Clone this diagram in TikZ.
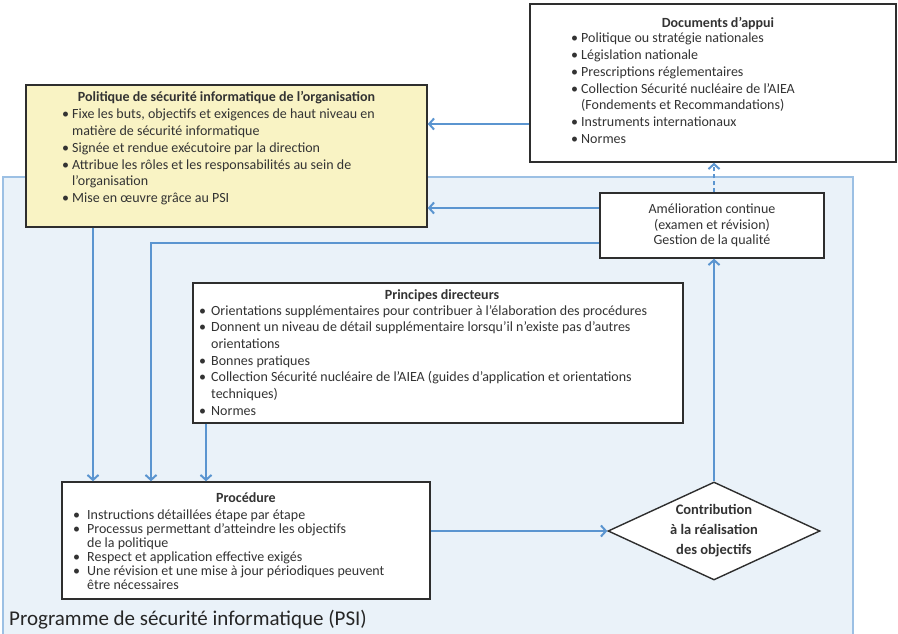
\documentclass[tikz,border=0pt]{standalone}
\usepackage{fontspec}
\setmainfont{Carlito}
\usetikzlibrary{arrows.meta,shapes.geometric,shadows}
\definecolor{arrowblue}{HTML}{5B95D0}
\definecolor{psifill}{HTML}{EAF2F9}
\definecolor{psiline}{HTML}{9CC0E4}
\definecolor{polfill}{HTML}{F9F3C4}
\definecolor{boxline}{HTML}{2E2E2E}
\definecolor{textgray}{HTML}{333333}
% bullet of a given width, used in the first column of the lists
\newcommand\blt[1]{\makebox[#1][l]{\textbullet}}
\begin{document}
\begin{tikzpicture}[x=1pt,y=-1pt,
  boxstyle/.style={draw=boxline, line width=1.4pt, fill=white, inner sep=0pt,
    drop shadow={shadow xshift=1.3pt, shadow yshift=-1.3pt, opacity=0.3}},
  txt/.style={inner sep=0pt, text=textgray, font=\fontsize{14}{16.7}\selectfont},
  ttl/.style={txt, font=\bfseries\fontsize{14}{16.7}\selectfont, anchor=base},
  lst/.style={txt, anchor=base west},
  arr/.style={draw=arrowblue, line width=2pt,
    -{Straight Barb[length=5pt,width=11pt]}},
  dasharr/.style={arr, dash pattern=on 4pt off 3pt}]
\useasboundingbox (0,0) rectangle (898,634);

% program area
\node[draw=psiline, line width=1.3pt, fill=psifill, inner sep=0pt,
      minimum width=850, minimum height=466] (psi) at (428,410) {};
\node[txt, text=black!85, font=\fontsize{21}{24}\selectfont, anchor=west]
      (psiT) at (9,620) {Programme de sécurité informatique (PSI)};

% supporting documents
\node[boxstyle, minimum width=366, minimum height=158] (docs) at (713,83) {};
\node[ttl] (docsT) at (718,28) {Documents d’appui};
\node[lst] (docsL) at (571,43) {\begin{tabular}[t]{@{}l@{}l@{}}
  \blt{10pt} & Politique ou stratégie nationales\\
  \blt{10pt} & Législation nationale\\
  \blt{10pt} & Prescriptions réglementaires\\
  \blt{10pt} & Collection Sécurité nucléaire de l’AIEA\\
             & (Fondements et Recommandations)\\
  \blt{10pt} & Instruments internationaux\\
  \blt{10pt} & Normes
\end{tabular}};

% organisational policy
\node[boxstyle, fill=polfill, minimum width=401, minimum height=142] (pol) at (226.5,156) {};
\node[ttl] (polT) at (226.5,102) {Politique de sécurité informatique de l’organisation};
\node[lst] (polL) at (62,119) {\begin{tabular}[t]{@{}l@{}l@{}}
  \blt{10pt} & Fixe les buts, objectifs et exigences de haut niveau en\\
             & matière de sécurité informatique\\
  \blt{10pt} & Signée et rendue exécutoire par la direction\\
  \blt{10pt} & Attribue les rôles et les responsabilités au sein de\\
             & l'organisation\\
  \blt{10pt} & Mise en œuvre grâce au PSI
\end{tabular}};

% continuous improvement
\node[boxstyle, minimum width=224, minimum height=65] (ame) at (712,225.5) {};
\node[txt, align=center, font=\fontsize{14}{15.5}\selectfont] (ameT) at (712,225.5)
  {Amélioration continue\\(examen et révision)\\Gestion de la qualité};

% guiding principles
\node[boxstyle, minimum width=490, minimum height=140] (prin) at (438,353) {};
\node[ttl] (prinT) at (442,299) {Principes directeurs};
\node[lst] (prinL) at (199,315) {\begin{tabular}[t]{@{}l@{}l@{}}
  \blt{12pt} & Orientations supplémentaires pour contribuer à l’élaboration des procédures\\
  \blt{12pt} & Donnent un niveau de détail supplémentaire lorsqu’il n’existe pas d’autres\\
             & orientations\\
  \blt{12pt} & Bonnes pratiques\\
  \blt{12pt} & Collection Sécurité nucléaire de l’AIEA (guides d’application et orientations\\
             & techniques)\\
  \blt{12pt} & Normes
\end{tabular}};

% procedure
\node[boxstyle, minimum width=368, minimum height=117] (proc) at (246,540.5) {};
\node[ttl] (procT) at (246,502) {Procédure};
\node[lst, font=\fontsize{14}{14}\selectfont] (procL) at (73,519) {\begin{tabular}[t]{@{}l@{}l@{}}
  \blt{14pt} & Instructions détaillées étape par étape\\
  \blt{14pt} & Processus permettant d’atteindre les objectifs\\
             & de la politique\\
  \blt{14pt} & Respect et application effective exigés\\
  \blt{14pt} & Une révision et une mise à jour périodiques peuvent\\
             & être nécessaires
\end{tabular}};

% decision
\node[diamond, aspect=2.16, draw=boxline, line width=1.4pt, fill=white, inner sep=0pt,
      minimum width=212, minimum height=98, align=center, text=textgray,
      font=\bfseries\fontsize{14.5}{20}\selectfont] (dia) at (714,531)
  {Contribution\\à la réalisation\\des objectifs};

% connectors
\draw[arr] (docs.west |- 0,124) -- (pol.east |- 0,124);
\draw[arr] (ame.west |- 0,208) -- (pol.east |- 0,208);
\draw[arr] (ame.west |- 0,243) -| (proc.north -| 151,0);
\draw[arr] (pol.south -| 93,0) -- (proc.north -| 93,0);
\draw[arr] (prin.south -| 206,0) -- (proc.north -| 206,0);
\draw[arr] (proc.east |- dia.west) -- (dia.west);
\draw[arr] (dia.north) -- (dia.north |- ame.south);
\draw[dasharr] (dia.north |- ame.north) -- (dia.north |- docs.south);
\end{tikzpicture}
\end{document}
